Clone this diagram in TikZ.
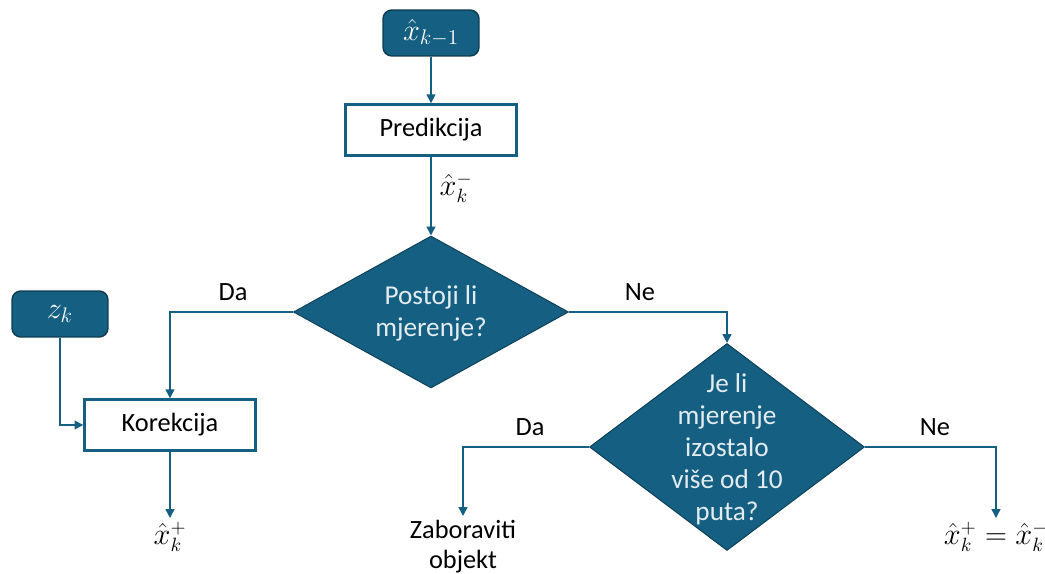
\documentclass[tikz,border=0pt]{standalone}
\usepackage{fontspec}
\setmainfont{Carlito}
\usetikzlibrary{arrows.meta,shapes.geometric}
\definecolor{kfblue}{HTML}{156082}
\tikzset{
  kf state/.style={
    rectangle,rounded corners=5pt,draw=kfblue!60!black,fill=kfblue,
    text=white,minimum width=1.92cm,minimum height=0.92cm,line width=0.8pt,
    font=\fontsize{17}{20}\selectfont
  },
  kf step/.style={
    rectangle,draw=kfblue,fill=white,line width=1.4pt,
    minimum width=3.42cm,minimum height=1.02cm,font=\fontsize{15}{18}\selectfont
  },
  kf test/.style={diamond,draw=kfblue!70!black,fill=kfblue,line width=0.6pt,
    inner sep=0pt,aspect=1},
  kf text/.style={text=white!88!kfblue,align=center,font=\fontsize{15.5}{18.2}\selectfont},
  kf edge/.style={kfblue,line width=0.85pt,-{Triangle[length=5pt,width=5pt]}},
  kf label/.style={font=\fontsize{15}{18}\selectfont,align=center},
  kf out/.style={font=\fontsize{16}{18.5}\selectfont,align=center,anchor=north,inner sep=2pt}
}

\begin{document}
\begin{tikzpicture}[x=0.02cm,y=-0.02cm]
  \useasboundingbox (0,0) rectangle (1045,574);
  % states and steps
  \node[kf state] (xprev) at (431,33) {$\hat{x}_{k-1}$};
  \node[kf step] (pred) at (431,130) {Predikcija};
  \node[kf state] (zk) at (60,314) {$z_k$};
  \node[kf step] (kor) at (170,425) {Korekcija};
  % decisions
  \node[kf test,minimum width=5.5cm,minimum height=3.04cm] (q1) at (431,312) {};
  \node[kf text] (q1t) at (431,313) {Postoji li\\mjerenje?};
  \node[kf test,minimum width=5.5cm,minimum height=4.14cm] (q2) at (727,447) {};
  \node[kf text] (q2t) at (727,449) {Je li\\mjerenje\\izostalo\\više od 10\\puta?};
  % outputs
  \node[kf out] (xplus) at (170,518) {$\hat{x}_k^+$};
  \node[kf out,font=\fontsize{15}{17}\selectfont] (forget) at (463,516) {Zaboraviti\\objekt};
  \node[kf out] (keep) at (996,518) {$\hat{x}_k^+=\hat{x}_k^-$};
  \node[font=\fontsize{16}{18}\selectfont] (xminus) at (456,188) {$\hat{x}_k^-$};
  % connectors
  \draw[kf edge] (xprev) -- (pred);
  \draw[kf edge] (pred) -- (q1.north);
  \draw[kf edge] (q1.west) -| (kor.north);
  \draw[kf edge] (q1.east) -| (q2.north);
  \draw[kf edge] (zk.south) |- (kor.west);
  \draw[kf edge] (kor.south) -- (xplus.north);
  \draw[kf edge] (q2.west) -| (forget.north);
  \draw[kf edge] (q2.east) -| (keep.north);
  % branch labels
  \node[kf label] (da1) at (233,292) {Da};
  \node[kf label] (ne1) at (640,292) {Ne};
  \node[kf label] (da2) at (530,427) {Da};
  \node[kf label] (ne2) at (935,427) {Ne};
\end{tikzpicture}
\end{document}
